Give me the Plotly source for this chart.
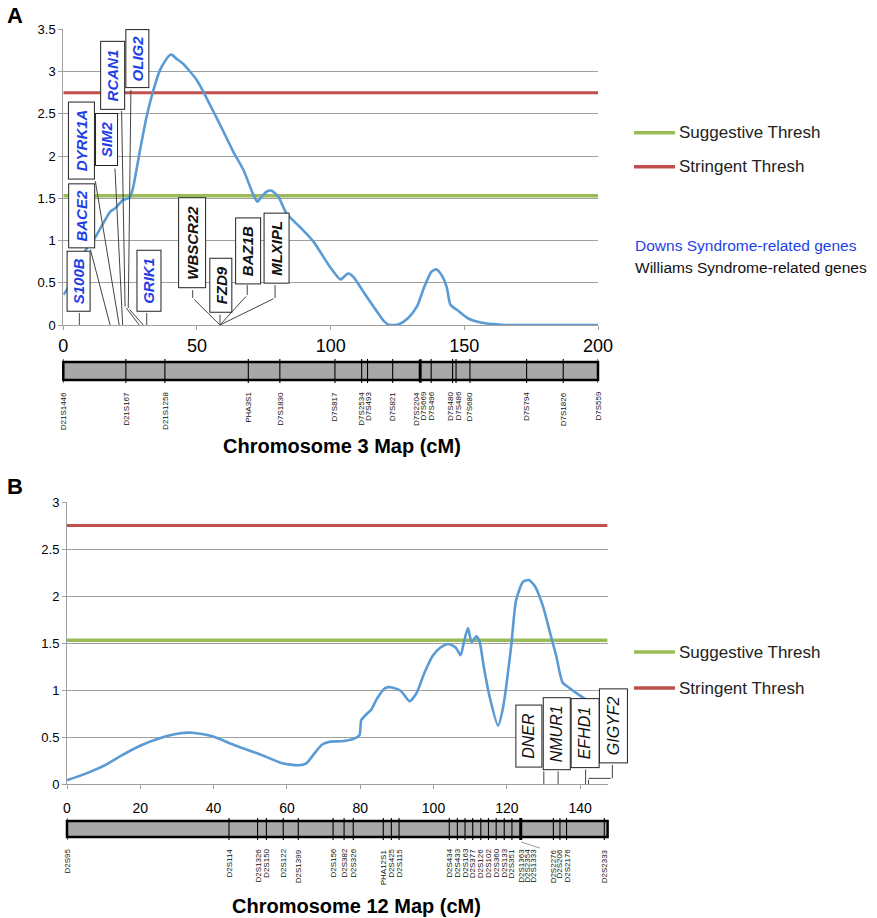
import plotly.graph_objects as go

# ---------------- data ----------------
# Panel A: chromosome 3 map LOD curve
a_cm = [0, 1.2, 3, 6, 9, 11.8, 17.5, 19.3, 22.4, 24.9, 26.2, 28.7, 31.2, 33.7, 36.2, 39.3, 40.5,
        42.4, 44.9, 47.4, 49.9, 52.4, 56.1, 59.9, 63.6, 67.3, 71.1, 72.6, 74.2, 76.1, 77.9, 80.4,
        83.5, 88.5, 93.5, 99.7, 103.7, 106.5, 108.5, 111.9, 116.0, 120.1, 122.1, 125.5, 128.9,
        132.3, 135.0, 137.7, 139.5, 141.5, 143.4, 144.8, 147.2, 151.3, 156.1, 160.8, 164.9, 180, 200]
a_lod = [0.36, 0.41, 0.55, 0.74, 0.92, 1.03, 1.34, 1.38, 1.48, 1.51, 1.64, 2.07, 2.47, 2.78, 3.02,
         3.18, 3.20, 3.15, 3.09, 3.0, 2.9, 2.76, 2.53, 2.29, 2.05, 1.84, 1.54, 1.46, 1.52, 1.58,
         1.59, 1.52, 1.32, 1.16, 0.99, 0.69, 0.54, 0.61, 0.57, 0.41, 0.22, 0.04, 0.0, 0.01, 0.08,
         0.22, 0.45, 0.63, 0.66, 0.59, 0.45, 0.24, 0.18, 0.08, 0.03, 0.01, 0.0, 0.0, 0.0]

# Panel B: chromosome 12 map LOD curve
b_cm = [0, 5.1, 10.4, 14.7, 20.1, 25.5, 30.9, 34.1, 39.5, 45.9, 52.4, 58.8, 63.1, 65.3, 67.4, 69.6,
        71.7, 74.9, 78.2, 79.8, 80.3, 81.9, 83.0, 84.6, 86.8, 88.4, 91.1, 93.5, 95.4, 97.5, 99.7,
        101.8, 104.0, 106.1, 107.4, 108.3, 109.4, 110.4, 111.7, 112.6, 113.7, 115.3, 117.6, 119.0,
        121.2, 122.5, 124.4, 126.0, 127.6, 129.8, 132.0, 133.5, 135.2, 136.8, 138.9, 141.6, 143.5]
b_lod = [0.04, 0.11, 0.20, 0.30, 0.41, 0.49, 0.54, 0.545, 0.51, 0.41, 0.32, 0.22, 0.20, 0.22, 0.32,
         0.42, 0.45, 0.455, 0.48, 0.52, 0.68, 0.75, 0.79, 0.91, 1.02, 1.03, 0.99, 0.88, 0.97, 1.18,
         1.36, 1.45, 1.49, 1.45, 1.37, 1.51, 1.66, 1.51, 1.57, 1.51, 1.25, 0.93, 0.62, 0.82, 1.47,
         1.95, 2.15, 2.17, 2.11, 1.90, 1.58, 1.36, 1.08, 1.03, 0.97, 0.90, 0.87]

suggestive = 1.53
stringent = 2.75

# marker maps
a_markers = ["D21S1446", "D21S167", "D21S1258", "PHA3S1", "D7S1830", "D7S817", "D7S2534", "D7S493",
             "D7S821", "D7S2204", "D7S669", "D7S496", "D7S480", "D7S486", "D7S680", "D7S794",
             "D7S1826", "D7S559"]
a_marker_cm = [0, 23.4, 38.0, 69.2, 81.0, 101.6, 111.6, 113.8, 123.2, 133.4, 133.8, 137.6, 145.6,
               146.9, 152.1, 173.3, 187.0, 200]
b_markers = ["D2S95", "D2S114", "D2S1326", "D2S150", "D2S122", "D2S1399", "D2S156", "D2S382",
             "D2S326", "PHA12S1", "D2S425", "D2S115", "D2S434", "D2S433", "D2S163", "D2S377",
             "D2S126", "D2S102", "D2S360", "D2S133", "D2S351", "D2S1363", "D2S2354", "D2S1333",
             "D2S2276", "D2S206", "D2S2176", "D2S2333"]
b_marker_cm = [0, 44.2, 52.0, 54.4, 59.0, 63.1, 72.6, 75.6, 78.1, 86.3, 88.5, 90.6, 104.3, 106.5,
               108.6, 110.7, 112.9, 115.0, 117.1, 119.3, 121.4, 123.8, 123.8, 123.8, 132.7, 134.5,
               136.3, 146.6]

# gene labels
a_genes = ["S100B", "BACE2", "DYRK1A", "SIM2", "RCAN1", "OLIG2", "GRIK1",
           "WBSCR22", "FZD9", "BAZ1B", "MLXIPL"]
a_gene_group = ["down"] * 7 + ["williams"] * 4
b_genes = ["DNER", "NMUR1", "EFHD1", "GIGYF2"]

# ---------------- layout helpers ----------------
W, H = 877, 918
def fx(p):
    return p / W
def fy(p):
    return 1 - p / H

BLUE = "#5b9bd5"
RED = "#c0504d"
GREEN = "#9bbb59"
GRID = "#a0a0a0"
GENE_BLUE = "#1f3fe6"
FONT = "Liberation Sans, Arial, sans-serif"

A_L, A_R, A_T, A_B = 63.3, 598.0, 29.3, 325.0
B_L, B_R, B_T, B_B = 67.0, 607.6, 502.0, 784.0
B_MAX = 147.5

def bdom(cm):
    # position along panel B x axis (as a fraction of its domain), allowing points past the edge
    return cm / B_MAX

fig = go.Figure()

# thresholds + curves
for xa, ya, xmax in (("x", "y", 200), ("x2", "y2", B_MAX)):
    fig.add_trace(go.Scatter(x=[0, xmax], y=[suggestive, suggestive], mode="lines",
                             line=dict(color=GREEN, width=3.5), xaxis=xa, yaxis=ya, hoverinfo="skip"))
    fig.add_trace(go.Scatter(x=[0, xmax], y=[stringent, stringent], mode="lines",
                             line=dict(color=RED, width=3), xaxis=xa, yaxis=ya, hoverinfo="skip"))
fig.add_trace(go.Scatter(x=a_cm, y=a_lod, mode="lines",
                         line=dict(color=BLUE, width=2.6, shape="spline", smoothing=0.6),
                         xaxis="x", yaxis="y"))
fig.add_trace(go.Scatter(x=b_cm, y=b_lod, mode="lines",
                         line=dict(color=BLUE, width=2.6, shape="spline", smoothing=0.6),
                         xaxis="x2", yaxis="y2"))

annotations = []
shapes = []

def label(x, y, text, size, color="black", xref="paper", yref="paper", xanchor="center",
          yanchor="middle", **kw):
    d = dict(x=x, y=y, xref=xref, yref=yref, text=text, showarrow=False, xanchor=xanchor,
             yanchor=yanchor, font=dict(family=FONT, size=size, color=color))
    d.update(kw)
    annotations.append(d)

def seg(xr, yr, pts, color="#444", xconv=lambda v: v):
    for (x0, y0), (x1, y1) in zip(pts[:-1], pts[1:]):
        annotations.append(dict(x=xconv(x1), y=y1, ax=xconv(x0), ay=y0, xref=xr, yref=yr,
                                axref=xr, ayref=yr, text="", showarrow=True, arrowhead=0,
                                arrowwidth=1, arrowcolor=color, standoff=0, startstandoff=0))

# ---- Panel A gene leader lines ----
a_leaders = [
    [(6.0, 0.16), (6.0, 0)],
    [(10.0, 0.91), (17.5, 0)],
    [(11.9, 1.72), (20.9, 0)],
    [(19.3, 1.87), (22.2, 0)],
    [(21.8, 2.55), (23.1, 0.22), (28.4, 0)],
    [(25.3, 2.80), (24.3, 0.20), (29.9, 0)],
    [(31.2, 0.16), (31.2, 0)],
    [(48.4, 0.43), (48.4, 0.32), (58.6, 0)],
    [(58.6, 0.14), (58.6, 0)],
    [(68.8, 0.49), (68.8, 0.355), (58.6, 0)],
    [(79.2, 0.49), (79.2, 0.32), (58.6, 0)],
]
for p in a_leaders:
    seg("x", "y", p)

box_style = dict(textangle=-90, bgcolor="white", bordercolor="#222", borderwidth=1, borderpad=0)

# boxes: (x center, y center, horizontal px, vertical px)
a_boxes = [(5.75, 0.52, 24, 61), (6.9, 1.295, 26.7, 65), (6.9, 2.18, 26.7, 78.3),
           (16.35, 2.19, 22.6, 53.4), (18.4, 2.955, 25, 68.6), (27.65, 3.15, 24.3, 59),
           (32.1, 0.525, 25, 61.7), (48.2, 0.97, 28, 91), (59.0, 0.465, 23.4, 55),
           (69.0, 0.88, 25.7, 66.7), (79.6, 0.905, 26, 70.7)]
for g, grp, (cx, cy, hw, vh) in zip(a_genes, a_gene_group, a_boxes):
    col = GENE_BLUE if grp == "down" else "#111111"
    label(cx, cy, f"<b><i>{g}</i></b>", 15, col, xref="x", yref="y",
          width=vh - 2, height=hw - 2, **box_style)

# ---- Panel B gene leader lines ----
b_leaders = [
    [(130.1, 0.15), (130.1, 0)],
    [(134.0, 0.15), (134.0, 0)],
    [(141.5, 0.17), (141.5, 0)],
    [(148.8, 0.22), (148.8, 0.06), (142.3, 0.06), (142.3, 0)],
]
for p in b_leaders:
    seg("x2 domain", "y2", p, xconv=bdom)
b_boxes = [(126.05, 0.515, 26.7, 63.3), (133.55, 0.535, 28, 72.7),
           (141.3, 0.54, 28.6, 70), (149.15, 0.62, 29, 75)]
for g, (cx, cy, hw, vh) in zip(b_genes, b_boxes):
    label(bdom(cx), cy, f"<i>{g}</i>", 16, "#111", xref="x2 domain", yref="y2",
          width=vh - 2, height=hw - 2, **box_style)

# ---- marker bars ----
def marker_bar(xr, names, pos, top, bot, label_top, shifts):
    shapes.append(dict(type="rect", xref=xr + " domain", yref="paper", x0=0, x1=1,
                       y0=fy(bot), y1=fy(top), fillcolor="#a8a8a8",
                       line=dict(color="black", width=2.5), layer="above"))
    for n, p in zip(names, pos):
        shapes.append(dict(type="line", xref=xr, yref="paper", x0=p, x1=p,
                           y0=fy(bot + 3), y1=fy(top - 3), line=dict(color="black", width=1.1)))
        label(p, fy(label_top), n, 8, "#111", xref=xr, yanchor="top",
              textangle=-90, xshift=shifts.get(n, 0))

marker_bar("x", a_markers, a_marker_cm, 362, 380, 390,
           {"D7S2204": -4, "D7S669": 2, "D7S2534": -1, "D7S493": 1, "D7S480": -2, "D7S486": 2})
marker_bar("x2", b_markers, b_marker_cm, 821, 837, 847,
           {"D2S2354": 6, "D2S1333": 12, "D2S1363": 0})
# thick marker lines
shapes.append(dict(type="line", xref="x", yref="paper", x0=133.4, x1=133.4, y0=fy(382), y1=fy(360),
                   line=dict(color="black", width=2.5)))
shapes.append(dict(type="line", xref="x2", yref="paper", x0=123.8, x1=123.8, y0=fy(840), y1=fy(818),
                   line=dict(color="black", width=3)))
shapes.append(dict(type="line", xref="x2", yref="paper", x0=123.9, x1=129.0, y0=fy(842), y1=fy(848),
                   line=dict(color="#999", width=1)))

# ---- titles / panel letters ----
label(fx(341.5), fy(446), "<b>Chromosome 3 Map (cM)</b>", 20)
label(fx(356), fy(906), "<b>Chromosome 12 Map (cM)</b>", 20)
label(fx(15), fy(15), "<b>A</b>", 22)
label(fx(15), fy(486), "<b>B</b>", 22)

# ---- legends ----
def legend(y_sug, y_str):
    for yy, col, txt in ((y_sug, GREEN, "Suggestive Thresh"), (y_str, RED, "Stringent Thresh")):
        shapes.append(dict(type="line", xref="paper", yref="paper", x0=fx(634), x1=fx(675),
                           y0=fy(yy), y1=fy(yy), line=dict(color=col, width=3.5)))
        label(fx(677), fy(yy), txt, 17, "#222", xanchor="left")
legend(132.7, 166.7)
legend(652, 688)
label(fx(633), fy(246), "Downs Syndrome-related genes", 15.5, GENE_BLUE, xanchor="left")
label(fx(633), fy(267), "Williams Syndrome-related genes", 15.5, "#111", xanchor="left")

axis_common = dict(showline=True, linecolor=GRID, linewidth=1, zeroline=False, automargin=False,
                   ticks="outside", ticklen=4, tickcolor=GRID, fixedrange=True)

fig.update_layout(
    template="none",
    width=W, height=H, margin=dict(l=0, r=0, t=0, b=0, pad=0, autoexpand=False),
    paper_bgcolor="white", plot_bgcolor="white", showlegend=False,
    xaxis=dict(domain=[fx(A_L), fx(A_R)], range=[0, 200], anchor="y", dtick=50,
               showgrid=False, tickfont=dict(family=FONT, size=18, color="black"),
               ticklabelstandoff=0, **axis_common),
    yaxis=dict(domain=[fy(A_B), fy(A_T)], range=[0, 3.5], anchor="x", dtick=0.5,
               showgrid=True, gridcolor=GRID, gridwidth=1.2,
               tickfont=dict(family=FONT, size=13, color="black"), **axis_common),
    xaxis2=dict(domain=[fx(B_L), fx(B_R)], range=[0, B_MAX], anchor="y2", dtick=20,
                showgrid=False, tickfont=dict(family=FONT, size=14, color="black"),
                ticklabelstandoff=7, **axis_common),
    yaxis2=dict(domain=[fy(B_B), fy(B_T)], range=[0, 3], anchor="x2", dtick=0.5,
                showgrid=True, gridcolor=GRID, gridwidth=1.2,
                tickfont=dict(family=FONT, size=13, color="black"), **axis_common),
    annotations=annotations, shapes=shapes,
)

fig.write_html("out.html", config={"displayModeBar": False},
               post_script="document.body.style.margin='0px';")
